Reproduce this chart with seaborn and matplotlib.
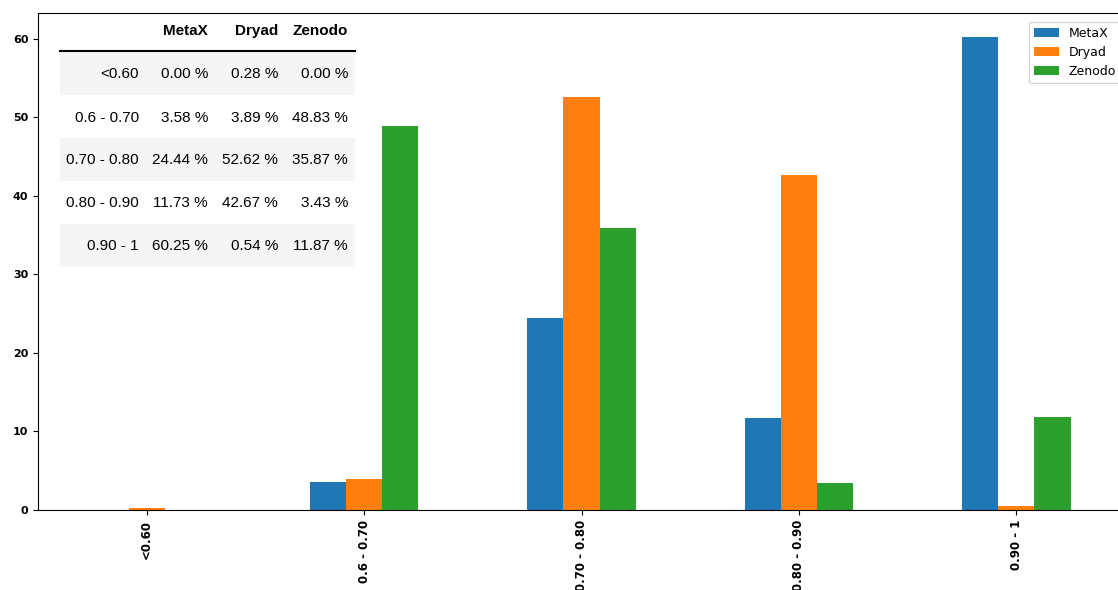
import matplotlib
matplotlib.use("Agg")
import matplotlib.pyplot as plt
from matplotlib.patches import Rectangle
import seaborn as sns
import pandas as pd

ranges = ['<0.60', '0.6 - 0.70', '0.70 - 0.80', '0.80 - 0.90', '0.90 - 1']
sources = ['MetaX', 'Dryad', 'Zenodo']
metax = [0.00, 3.58, 24.44, 11.73, 60.25]
dryad = [0.28, 3.89, 52.62, 42.67, 0.54]
zenodo = [0.00, 48.83, 35.87, 3.43, 11.87]
colors = ['#1f77b4', '#ff7f0e', '#2ca02c']

values = {'MetaX': metax, 'Dryad': dryad, 'Zenodo': zenodo}
rows = []
for s in sources:
    for r, v in zip(ranges, values[s]):
        rows.append({'range': r, 'source': s, 'pct': v})
df = pd.DataFrame(rows)

W, H = 1118, 590
fig = plt.figure(figsize=(W / 100, H / 100), dpi=100)
ax = fig.add_axes([38 / W, 1 - 510 / H, (1125 - 38) / W, (510 - 13) / H])

sns.barplot(data=df, x='range', y='pct', hue='source', order=ranges,
            hue_order=sources, palette=colors, width=0.5, gap=0,
            saturation=1, ax=ax, legend=True)

ax.set_xlim(-0.5, 4.5)
ax.set_ylim(0, max(max(metax), max(dryad), max(zenodo)) * 1.05)
ax.set_xlabel('')
ax.set_ylabel('')
ax.set_yticks([0, 10, 20, 30, 40, 50, 60])
for lab in ax.get_xticklabels():
    lab.set_rotation(90)
    lab.set_fontweight('bold')
    lab.set_fontsize(8.5)
for lab in ax.get_yticklabels():
    lab.set_fontweight('bold')
    lab.set_fontsize(8)

leg = ax.legend(loc='upper right', fontsize=9, title=None,
                bbox_to_anchor=(1.0, 0.99), borderaxespad=0.3)

# table overlay (pixel coordinates of the figure)
def fx(x):
    return x / W

def fy(y):
    return 1 - y / H

tab_font = ['Liberation Sans', 'DejaVu Sans']
col_right = [139, 208, 278, 348]
row_top0 = 52
row_h = 43
for i in range(len(ranges)):
    if i % 2 == 0:
        fig.patches.append(Rectangle((fx(60), fy(row_top0 + (i + 1) * row_h)),
                                     fx(355) - fx(60), row_h / H,
                                     transform=fig.transFigure,
                                     facecolor='#f5f5f5', edgecolor='none',
                                     zorder=5))
fig.add_artist(plt.Line2D([fx(60), fx(355)], [fy(51), fy(51)],
                          transform=fig.transFigure, color='black', lw=1.5,
                          zorder=6))
for j, s in enumerate(sources):
    fig.text(fx(col_right[j + 1]), fy(35), s, ha='right', va='baseline',
             fontsize=11, fontweight='bold', family=tab_font, zorder=7)
for i, r in enumerate(ranges):
    yb = fy(row_top0 + i * row_h + row_h / 2 + 5)
    fig.text(fx(col_right[0]), yb, r, ha='right', va='baseline',
             fontsize=11, family=tab_font, zorder=7)
    for j, s in enumerate(sources):
        fig.text(fx(col_right[j + 1]), yb, '%.2f %%' % values[s][i],
                 ha='right', va='baseline', fontsize=11, family=tab_font,
                 zorder=7)

fig.savefig('out.png', dpi=100)
